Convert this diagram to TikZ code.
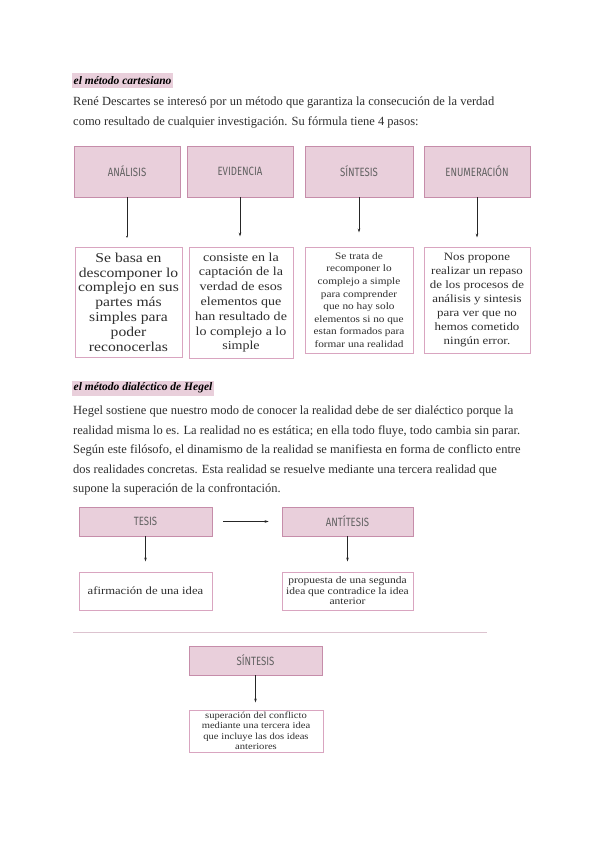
\documentclass[tikz,border=0pt]{standalone}
\usepackage{fontspec}
\setmainfont{Liberation Serif}
\newfontfamily\hdfont[FakeStretch=0.8]{Fira Sans}
\newfontfamily\boxfont[FakeStretch=1.15]{Liberation Serif}
\newfontfamily\ttlfont{Liberation Serif}
\usetikzlibrary{arrows.meta}
\definecolor{pinkfill}{HTML}{E9CFDB}
\definecolor{hdborder}{HTML}{C68DAA}
\definecolor{tborder}{HTML}{D9A5C0}
\definecolor{txt}{HTML}{2E2E2E}
\definecolor{divider}{HTML}{DCC3CF}
\tikzset{
  hbox/.style={draw=hdborder, fill=pinkfill, line width=0.8pt, inner sep=0pt,
    font=\hdfont\fontsize{12}{13}\selectfont, text=black!62},
  tbox/.style={draw=tborder, fill=white, line width=1pt, inner sep=0pt, align=center, text=txt},
  arr/.style={-{Stealth[length=4pt,width=2.6pt]}, line width=0.6pt, draw=black!85},
  ttl/.style={fill=pinkfill, inner sep=1.5pt, minimum height=15pt, anchor=west,
    font=\ttlfont\itshape\bfseries\fontsize{11.5}{12}\selectfont, text=black},
  para/.style={anchor=north west, inner sep=0pt, align=left, text=txt,
    font=\fontsize{12.5}{19.4}\selectfont}
}
\begin{document}
\begin{tikzpicture}[x=1pt,y=-1pt]
\path[use as bounding box, fill=white] (0,0) rectangle (600,848);

% ---- Descartes ----
\node[ttl] (t1) at (72,80.5) {el método cartesiano};
\node[para] (p1) at (73,97) {René Descartes se interesó por un método que garantiza la consecución de la verdad\\
como resultado de cualquier investigación. Su fórmula tiene 4 pasos:};

\node[hbox, minimum width=106pt, minimum height=51pt] (h1) at (127,171.5) {ANÁLISIS};
\node[hbox, minimum width=106pt, minimum height=51pt] (h2) at (240,171.5) {EVIDENCIA};
\node[hbox, minimum width=108pt, minimum height=51pt] (h3) at (359,171.5) {SÍNTESIS};
\node[hbox, minimum width=106pt, minimum height=51pt] (h4) at (477,171.5) {ENUMERACIÓN};

\node[tbox, minimum width=107pt, minimum height=110pt, font=\boxfont\fontsize{13.6}{14.8}\selectfont] (b1) at (128.5,302)
  {Se basa en\\descomponer lo\\complejo en sus\\partes más\\simples para\\poder\\reconocerlas};
\node[tbox, minimum width=104pt, minimum height=111pt, font=\boxfont\fontsize{12.2}{14.8}\selectfont] (b2) at (241,302.5)
  {consiste en la\\captación de la\\verdad de esos\\elementos que\\han resultado de\\lo complejo a lo\\simple};
\node[tbox, minimum width=108pt, minimum height=106pt, font=\boxfont\fontsize{9.8}{12.6}\selectfont] (b3) at (359,300)
  {Se trata de\\recomponer lo\\complejo a simple\\para comprender\\que no hay solo\\elementos si no que\\estan formados para\\formar una realidad};
\node[tbox, minimum width=106pt, minimum height=106pt, font=\boxfont\fontsize{11.2}{14}\selectfont] (b4) at (477,300)
  {Nos propone\\realizar un repaso\\de los procesos de\\análisis y sintesis\\para ver que no\\hemos cometido\\ningún error.};

\draw[line width=0.6pt, draw=black!85, -{Circle[length=1.6pt]}, shorten >=9pt] (h1.south) -- (h1.south |- b1.north);
\draw[arr, shorten >=10pt] (h2.south) -- (h2.south |- b2.north);
\draw[arr, shorten >=14pt] (h3.south) -- (h3.south |- b3.north);
\draw[arr, shorten >=9pt] (h4.south) -- (h4.south |- b4.north);

% ---- Hegel ----
\node[ttl] (t2) at (72,388) {el método dialéctico de Hegel};
\node[para] (p2) at (73,406) {Hegel sostiene que nuestro modo de conocer la realidad debe de ser dialéctico porque la\\
realidad misma lo es. La realidad no es estática; en ella todo fluye, todo cambia sin parar.\\
Según este filósofo, el dinamismo de la realidad se manifiesta en forma de conflicto entre\\
dos realidades concretas. Esta realidad se resuelve mediante una tercera realidad que\\
supone la superación de la confrontación.};

\node[hbox, minimum width=133pt, minimum height=29pt] (tes) at (145.5,521.5) {TESIS};
\node[hbox, minimum width=131pt, minimum height=29pt] (ant) at (347.5,521.5) {ANTÍTESIS};
\node[tbox, minimum width=133pt, minimum height=38pt, font=\boxfont\fontsize{11}{12}\selectfont] (tb1) at (145.5,591)
  {afirmación de una idea};
\node[tbox, minimum width=131pt, minimum height=38pt, font=\boxfont\fontsize{10}{10.5}\selectfont] (tb2) at (347.5,591)
  {propuesta de una segunda\\idea que contradice la idea\\anterior};

\draw[arr, shorten <=11pt, shorten >=13pt] (tes.east) -- (ant.west);
\draw[arr, shorten >=10pt] (tes.south) -- (tes.south |- tb1.north);
\draw[arr, shorten >=10pt] (ant.south) -- (ant.south |- tb2.north);

\coordinate (dl) at (73,632);
\coordinate (dr) at (487,632);
\draw[divider, line width=0.9pt] (dl) -- (dr);

\node[hbox, minimum width=133pt, minimum height=29pt] (sin) at (255.5,660.5) {SÍNTESIS};
\node[tbox, minimum width=134pt, minimum height=42pt, font=\boxfont\fontsize{9.2}{10.5}\selectfont] (sb) at (256,731)
  {superación del conflicto\\mediante una tercera idea\\que incluye las dos ideas\\anteriores};
\draw[arr, shorten >=7pt] (sin.south) -- (sin.south |- sb.north);

\end{tikzpicture}
\end{document}
